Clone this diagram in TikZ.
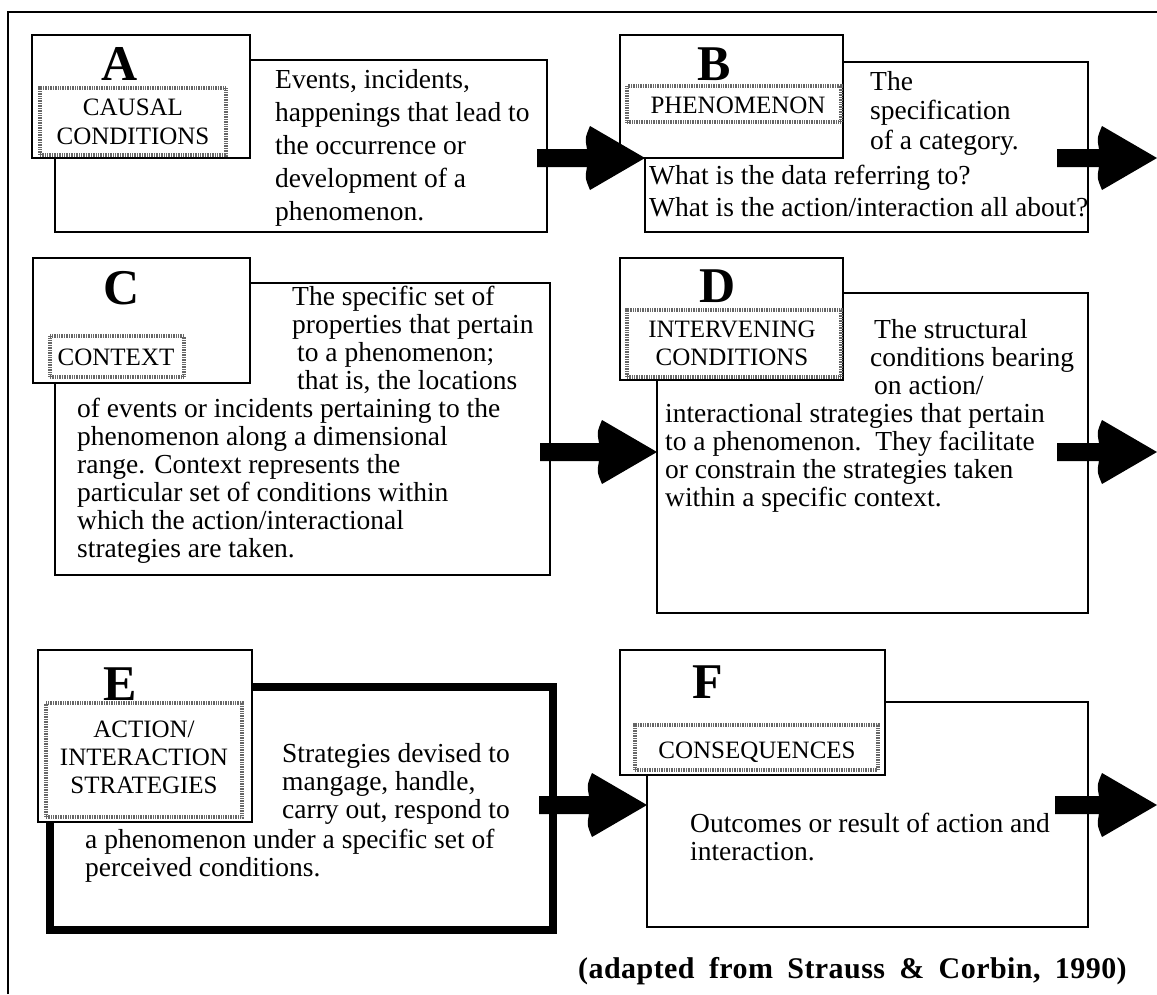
\documentclass[tikz,border=0pt]{standalone}
\usepackage{fontspec}
\setmainfont{Liberation Serif}
\newfontfamily\capfont[LetterSpace=1.5,WordSpace=1.8]{Liberation Serif}
\usetikzlibrary{calc,fit}
\begin{document}
\begin{tikzpicture}[x=1pt,y=-1pt,
  frameline/.style={line width=2.4pt},
  tbox/.style={draw, line width=2.2pt, rectangle, inner sep=0pt, outer sep=0pt},
  thickbox/.style={tbox, line width=8pt},
  lbox/.style={tbox, fill=white},
  grayframe/.style={draw=black!60, line width=3.4pt, dash pattern=on 1pt off 0.7pt, rectangle, inner sep=0pt},
  letter/.style={inner sep=0pt, anchor=center, font=\fontsize{50}{50}\selectfont\bfseries},
  lbl/.style={inner sep=0pt, anchor=base, font=\fontsize{25}{28}\selectfont},
  body/.style={inner sep=0pt, anchor=base west, font=\fontsize{27.5}{30}\selectfont},
  caption/.style={inner sep=0pt, anchor=base west, font=\capfont\fontsize{30}{30}\selectfont\bfseries},
  fatarrow/.style={fill=black, draw=none, to path={
    let \p1=(\tikztostart), \p2=(\tikztotarget) in
    (\x1,\y2+9pt) -- (\x2-58pt,\y2+9pt)
    .. controls (\x2-60pt,\y2+20pt) .. (\x2-55pt,\y2+32pt) -- (\x2,\y2)
    -- (\x2-55pt,\y2-32pt) .. controls (\x2-60pt,\y2-20pt) .. (\x2-58pt,\y2-9pt)
    -- (\x1,\y2-9pt) -- cycle}}
]
\useasboundingbox (0,0) rectangle (1157,994);
\fill[white] (0,0) rectangle (1157,994);

% outer frame (top and left edges)
\draw[frameline] (8,994) -- (8,12) -- (1157,12);

% description boxes
\node[tbox, fit={(55,60) (547,232)}] (Atext) {};
\node[tbox, fit={(645,62) (1088,232)}] (Btext) {};
\node[tbox, fit={(55,283) (550,575)}] (Ctext) {};
\node[tbox, fit={(657,293) (1088,613)}] (Dtext) {};
\node[thickbox, fit={(50,687) (553,930)}] (Etext) {};
\node[tbox, fit={(647,702) (1088,927)}] (Ftext) {};

% title boxes
\node[lbox, fit={(32,35) (250,158)}] (Alabel) {};
\node[lbox, fit={(620,35) (843,158)}] (Blabel) {};
\node[lbox, fit={(33,258) (250,383)}] (Clabel) {};
\node[lbox, fit={(620,258) (843,380)}] (Dlabel) {};
\node[lbox, fit={(38,650) (252,822)}] (Elabel) {};
\node[lbox, fit={(620,650) (885,775)}] (Flabel) {};

% shaded frames round the category names
\node[grayframe, fit={(40,88) (226,155)}] (Agray) {};
\node[grayframe, fit={(627,86) (841,122)}] (Bgray) {};
\node[grayframe, fit={(50,336) (184,377)}] (Cgray) {};
\node[grayframe, fit={(627,310) (841,377)}] (Dgray) {};
\node[grayframe, fit={(46,703) (242,817)}] (Egray) {};
\node[grayframe, fit={(635,725) (878,770)}] (Fgray) {};

% letters and category names
\node[letter] (Aletter) at (120,64) {A};
\node[lbl] (Aname1) at (133,115) {CAUSAL};
\node[lbl] (Aname2) at (133,144) {CONDITIONS};

\node[letter] (Bletter) at (714,64) {B};
\node[lbl] (Bname) at (738,113) {PHENOMENON};

\node[letter] (Cletter) at (122,288) {C};
\node[lbl] (Cname) at (116,365) {CONTEXT};

\node[letter] (Dletter) at (718,286) {D};
\node[lbl] (Dname1) at (732,337) {INTERVENING};
\node[lbl] (Dname2) at (732,365) {CONDITIONS};

\node[letter] (Eletter) at (120,684) {E};
\node[lbl] (Ename1) at (144,737) {ACTION/};
\node[lbl] (Ename2) at (144,765) {INTERACTION};
\node[lbl] (Ename3) at (144,793) {STRATEGIES};

\node[letter] (Fletter) at (708,682) {F};
\node[lbl] (Fname) at (757,758) {CONSEQUENCES};

% descriptions
\node[body] (At1) at (275,88) {Events, incidents,};
\node[body] (At2) at (275,121) {happenings that lead to};
\node[body] (At3) at (275,154) {the occurrence or};
\node[body] (At4) at (275,187) {development of a};
\node[body] (At5) at (275,220) {phenomenon.};

\node[body] (Bt1) at (870,90) {The};
\node[body] (Bt2) at (870,119) {specification};
\node[body] (Bt3) at (870,149) {of a category.};
\node[body] (Bt4) at (649,184) {What is the data referring to?};
\node[body] (Bt5) at (649,216) {What is the action/interaction all about?};

\node[body] (Ct1) at (292,305) {The specific set of};
\node[body] (Ct2) at (292,333) {properties that pertain};
\node[body] (Ct3) at (297,361) {to a phenomenon;};
\node[body] (Ct4) at (297,389) {that is, the locations};
\node[body] (Ct5) at (77,417) {of events or incidents pertaining to the};
\node[body] (Ct6) at (77,445) {phenomenon along a dimensional};
\node[body] (Ct7) at (77,473) {range. Context represents the};
\node[body] (Ct8) at (77,501) {particular set of conditions within};
\node[body] (Ct9) at (77,529) {which the action/interactional};
\node[body] (Ct10) at (77,557) {strategies are taken.};

\node[body] (Dt1) at (874,338) {The structural};
\node[body] (Dt2) at (870,366) {conditions bearing};
\node[body] (Dt3) at (874,394) {on action/};
\node[body] (Dt4) at (665,422) {interactional strategies that pertain};
\node[body] (Dt5) at (665,450) {to a phenomenon.\ \ They facilitate};
\node[body] (Dt6) at (665,478) {or constrain the strategies taken};
\node[body] (Dt7) at (665,506) {within a specific context.};

\node[body] (Et1) at (282,762) {Strategies devised to};
\node[body] (Et2) at (282,790) {mangage, handle,};
\node[body] (Et3) at (282,818) {carry out, respond to};
\node[body] (Et4) at (85,848) {a phenomenon under a specific set of};
\node[body] (Et5) at (85,876) {perceived conditions.};

\node[body] (Ft1) at (690,832) {Outcomes or result of action and};
\node[body] (Ft2) at (690,860) {interaction.};

\node[caption] (cap) at (578,978) {(adapted from Strauss \& Corbin, 1990)};

% block arrows between the boxes
\coordinate (ABs) at ($(Atext.east |- 0,158)+(-10,0)$);
\coordinate (ABt) at (Btext.west |- ABs);
\coordinate (Bs) at ($(Btext.east |- 0,158)+(-31,0)$);
\coordinate (Bt) at (1157,158);
\coordinate (CDs) at ($(Ctext.east |- 0,452)+(-10,0)$);
\coordinate (CDt) at (Dtext.west |- CDs);
\coordinate (Ds) at ($(Dtext.east |- 0,452)+(-31,0)$);
\coordinate (Dt) at (1157,452);
\coordinate (EFs) at ($(Etext.east |- 0,805)+(-14,0)$);
\coordinate (EFt) at (Ftext.west |- EFs);
\coordinate (Fs) at ($(Ftext.east |- 0,805)+(-33,0)$);
\coordinate (Ft) at (1157,805);

\path[fatarrow] (ABs) to (ABt);
\path[fatarrow] (Bs) to (Bt);
\path[fatarrow] (CDs) to (CDt);
\path[fatarrow] (Ds) to (Dt);
\path[fatarrow] (EFs) to (EFt);
\path[fatarrow] (Fs) to (Ft);
\end{tikzpicture}
\end{document}
